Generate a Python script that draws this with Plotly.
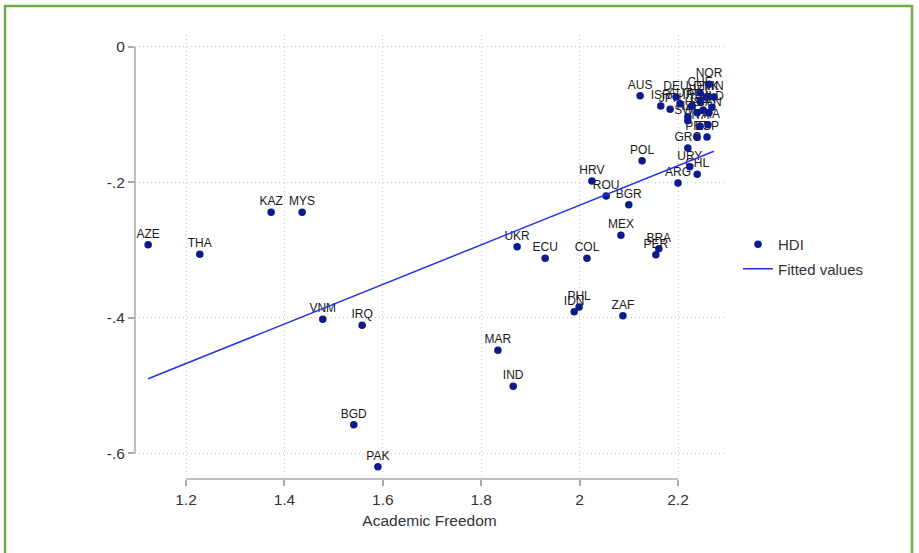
import plotly.graph_objects as go

codes = ["AZE","THA","KAZ","MYS","VNM","IRQ","BGD","PAK","MAR","IND","UKR","ECU","COL","IDN","PHL",
         "ZAF","MEX","PER","BRA","HRV","ROU","BGR","POL","ARG","URY","CHL","GRC","ESP","PRT","FRA",
         "ITA","SWE","NZL","USA","CAN","GBR","NLD","IRL","ISR","JPN","AUT","BEL","DNK","FIN","DEU",
         "AUS","CHE","NOR"]
academic_freedom = [1.123,1.228,1.373,1.436,1.478,1.558,1.541,1.590,1.834,1.865,1.873,1.930,2.015,1.989,1.999,
                    2.088,2.084,2.155,2.161,2.025,2.054,2.100,2.127,2.200,2.224,2.239,2.220,2.259,2.239,2.261,
                    2.245,2.220,2.220,2.239,2.263,2.251,2.269,2.228,2.165,2.184,2.204,2.245,2.257,2.273,2.196,
                    2.123,2.245,2.263]
hdi = [-0.292,-0.306,-0.244,-0.244,-0.402,-0.411,-0.558,-0.620,-0.448,-0.501,-0.295,-0.312,-0.312,-0.391,-0.384,
       -0.397,-0.278,-0.307,-0.298,-0.198,-0.220,-0.233,-0.168,-0.201,-0.177,-0.188,-0.149,-0.133,-0.133,-0.115,
       -0.117,-0.109,-0.103,-0.097,-0.097,-0.093,-0.089,-0.087,-0.087,-0.092,-0.084,-0.080,-0.074,-0.074,-0.074,
       -0.072,-0.068,-0.055]
fit_x = [1.123, 2.273]
fit_y = [-0.490, -0.154]

x_ticks = [1.2, 1.4, 1.6, 1.8, 2.0, 2.2]
x_ticktext = ["1.2", "1.4", "1.6", "1.8", "2", "2.2"]
y_ticks = [0, -0.2, -0.4, -0.6]
y_ticktext = ["0", "-.2", "-.4", "-.6"]

FONT = "Liberation Sans, Arial, sans-serif"
NAVY = "#0d1a8c"
BLUE = "#2233ee"
AXC = "#a8a8a8"

fig = go.Figure()
fig.add_trace(go.Scatter(x=academic_freedom, y=hdi, mode="markers+text", text=codes,
                         textposition="top center", showlegend=False, hoverinfo="skip",
                         marker=dict(size=5, opacity=0),
                         textfont=dict(family=FONT, size=12, color="#1a1a1a")))
fig.add_trace(go.Scatter(x=academic_freedom, y=hdi, mode="markers", name="HDI",
                         marker=dict(color=NAVY, size=7.5), legendgroup="a"))
fig.add_trace(go.Scatter(x=fit_x, y=fit_y, mode="lines", name="Fitted values",
                         line=dict(color=BLUE, width=1.5), legendgroup="b"))

L, R, T, B = 135, 724, 35, 479
W, H = 919, 553

def px(xp):
    return (xp - L) / (R - L)

def py(yp):
    return (B - yp) / (B - T)

shapes = [
    dict(type="line", xref="x", yref="paper", x0=1.2, x1=2.2, y0=0, y1=0,
         line=dict(color=AXC, width=1.5)),
    dict(type="line", xref="paper", yref="y", x0=0, x1=0, y0=0, y1=-0.6,
         line=dict(color=AXC, width=1.5)),
    dict(type="rect", xref="paper", yref="paper", x0=px(5), x1=px(912), y0=py(570), y1=py(6),
         line=dict(color="#70ad47", width=2.5), fillcolor="rgba(0,0,0,0)", layer="above"),
]

fig.update_layout(
    width=W, height=H,
    margin=dict(l=L, r=W - R, t=T, b=H - B, pad=0),
    paper_bgcolor="white", plot_bgcolor="white",
    font=dict(family=FONT, size=15, color="#333333"),
    shapes=shapes,
    legend=dict(x=px(738), y=py(228), xanchor="left", yanchor="top",
                font=dict(family=FONT, size=15, color="#333333"),
                bgcolor="rgba(0,0,0,0)", tracegroupgap=2),
    xaxis=dict(range=[1.0963, 2.2935], tickvals=x_ticks, ticktext=x_ticktext,
               showgrid=True, gridcolor="#c8c8c8", griddash="1px,3px", gridwidth=1,
               showline=False, zeroline=False, ticks="outside", ticklen=6,
               tickcolor=AXC, tickwidth=1.5, tickfont=dict(size=15.5),
               title=dict(text="Academic Freedom", font=dict(size=15.5, color="#333333"), standoff=8)),
    yaxis=dict(range=[-0.638, 0.0177], tickvals=y_ticks, ticktext=y_ticktext,
               showgrid=True, gridcolor="#c8c8c8", griddash="1px,3px", gridwidth=1,
               showline=False, zeroline=False, ticks="outside", ticklen=6,
               tickcolor=AXC, tickwidth=1.5, tickfont=dict(size=15.5)),
)

fig.write_html("out.html", config={"displayModeBar": False},
               post_script="document.body.style.margin='0';document.body.style.overflow='hidden';")
